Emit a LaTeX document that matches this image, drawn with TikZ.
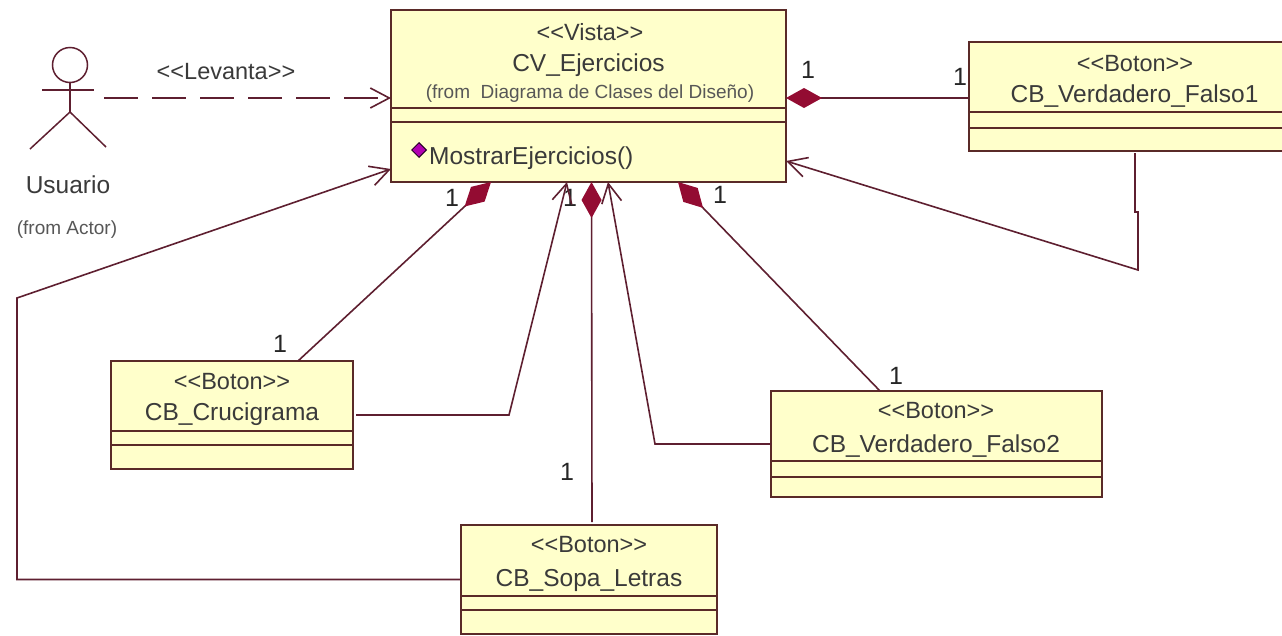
\documentclass[tikz,border=0pt]{standalone}
\usepackage{fontspec}
\setmainfont{Liberation Sans}
\usepackage{xcolor}
\usepackage{tikz}
\usetikzlibrary{arrows.meta,shapes.geometric}
\definecolor{thwine}{HTML}{5E1F30}
\definecolor{thedge}{HTML}{5A2A28}
\definecolor{thcream}{HTML}{FFFFCB}
\definecolor{think}{HTML}{3A3A3A}
\definecolor{thcrimson}{HTML}{930C32}
\tikzset{
  thclass/.style={draw=thedge, fill=thcream, line width=1.6pt, inner sep=0pt, outer sep=0pt},
  thsep/.style={line width=1.6pt, draw=thedge},
  thtext/.style={text=think, inner sep=0pt, font=\fontsize{24.5}{28}\selectfont},
  thtag/.style={text=think, inner sep=0pt, font=\fontsize{23.5}{28}\selectfont},
  thsmall/.style={text=think!85, inner sep=0pt, font=\fontsize{19}{22}\selectfont},
  thmult/.style={text=black!85, inner sep=0pt, font=\fontsize{25}{28}\selectfont},
  thassoc/.style={line width=1.6pt, draw=thwine, -{Straight Barb[length=19pt,width=20pt]}},
  thdep/.style={thassoc, dash pattern=on 34pt off 14pt},
  thcomp/.style={line width=1.6pt, draw=thwine, {Diamond[length=36pt,width=20pt,color=thcrimson,fill=thcrimson]}-},
  thstick/.style={line width=1.5pt, draw=thwine},
  thop/.style={shape=diamond, draw=black!70!violet, fill=violet!60!magenta, line width=1pt, minimum size=15pt, inner sep=0pt},
}
\begin{document}
\begin{tikzpicture}[x=1pt,y=-1pt]
\useasboundingbox (0,0) rectangle (1282,635);
\clip (0,0) rectangle (1282,635);
\fill[white] (0,0) rectangle (1282,635);
\node[thclass, minimum width=395pt, minimum height=172pt] (vista) at (588.5,96) {};
\node[thclass, minimum width=331pt, minimum height=109pt] (falso1) at (1134.5,96.5) {};
\node[thclass, minimum width=242pt, minimum height=108pt] (cruci) at (232,415) {};
\node[thclass, minimum width=331pt, minimum height=106pt] (falso2) at (936.5,444) {};
\node[thclass, minimum width=256pt, minimum height=109pt] (sopa) at (589,579.5) {};
\draw[thsep] (391,108) -- (786,108);
\draw[thsep] (391,122) -- (786,122);
\draw[thsep] (969,112) -- (1300,112);
\draw[thsep] (969,128) -- (1300,128);
\draw[thsep] (111,431) -- (353,431);
\draw[thsep] (111,445) -- (353,445);
\draw[thsep] (771,461) -- (1102,461);
\draw[thsep] (771,477) -- (1102,477);
\draw[thsep] (461,596) -- (717,596);
\draw[thsep] (461,610) -- (717,610);
\node[thtag] (vistatag) at (590,32) {<{}<Vista>{}>};
\node[thtext] (vistaname) at (588.5,65) {CV\_Ejercicios};
\node[thsmall] (vistafrom) at (590,94) {(from\ \ Diagrama de Clases del Diseño)};
\node[thop] (mostraricon) at (419,150) {};
\node[thtext, anchor=west] (mostrar) at (429,158) {MostrarEjercicios()};
\node[thtag] (falso1tag) at (1135,64) {<{}<Boton>{}>};
\node[thtext] (falso1name) at (1134.5,96) {CB\_Verdadero\_Falso1};
\node[thtag] (crucitag) at (232,382) {<{}<Boton>{}>};
\node[thtext] (puciname) at (232,414) {CB\_Crucigrama};
\node[thtag] (falso2tag) at (936,411) {<{}<Boton>{}>};
\node[thtext] (falso2name) at (936,446) {CB\_Verdadero\_Falso2};
\node[thtag] (sopatag) at (589,545) {<{}<Boton>{}>};
\node[thtext] (sopaname) at (589,580) {CB\_Sopa\_Letras};
% actor
\node[circle, thstick, minimum size=35pt, inner sep=0pt] (head) at (70,65) {};
\coordinate (hip) at (70,112);
\draw[thstick] (head.south) -- (hip);
\draw[thstick] (42,90) -- (94,90);
\draw[thstick] (hip) -- (30,149);
\draw[thstick] (hip) -- (106,147);
\node[thtext] (usuario) at (68,185) {Usuario};
\node[thsmall] (actorfrom) at (67,230) {(from Actor)};
\coordinate (usuarioend) at (104,98);
\draw[thdep] (usuarioend) -- (usuarioend -| vista.west);
\node[thtag] (levanta) at (226,72) {<{}<Levanta>{}>};
% composiciones
\draw[thcomp] ([yshift=-2pt]vista.east) -- ([yshift=-1.5pt]falso1.west);
\draw[thcomp] ([xshift=-97.5pt]vista.south) -- ([xshift=66pt]cruci.north);
\draw[thcomp] ([xshift=3pt]vista.south) -- ([xshift=3pt,yshift=3pt]sopa.north);
\draw[thcomp] ([xshift=89.5pt]vista.south) -- ([xshift=-56.5pt]falso2.north);
\node[thmult] (m1) at (808,70) {1};
\node[thmult] (m2) at (960,77) {1};
\node[thmult] (m3) at (452,198) {1};
\node[thmult] (m4) at (280,344) {1};
\node[thmult] (m5) at (570,198) {1};
\node[thmult] (m6) at (567,472) {1};
\node[thmult] (m7) at (720,195) {1};
\node[thmult] (m8) at (896,376) {1};
% asociaciones
\coordinate (falso1a) at (1135,212);
\coordinate (falso1b) at (1138,212);
\coordinate (falso1c) at (1138,270);
\draw[thassoc] ([xshift=0.5pt,yshift=-2pt]falso1.south) -- (falso1a) -- (falso1b) -- (falso1c) -- ([yshift=-65pt]vista.east);
\coordinate (crucib) at (509,415);
\draw[thassoc] ([xshift=3pt]cruci.east) -- (crucib) -- ([xshift=-21.5pt]vista.south);
\coordinate (falso2b) at (655,444);
\draw[thassoc] (falso2.west) -- (falso2b) -- ([xshift=19.5pt]vista.south);
\coordinate (sopab) at (17,579.5);
\coordinate (sopac) at (17,298);
\draw[thassoc] (sopa.west) -- (sopab) -- (sopac) -- ([yshift=-73pt]vista.west);
\end{tikzpicture}
\end{document}
